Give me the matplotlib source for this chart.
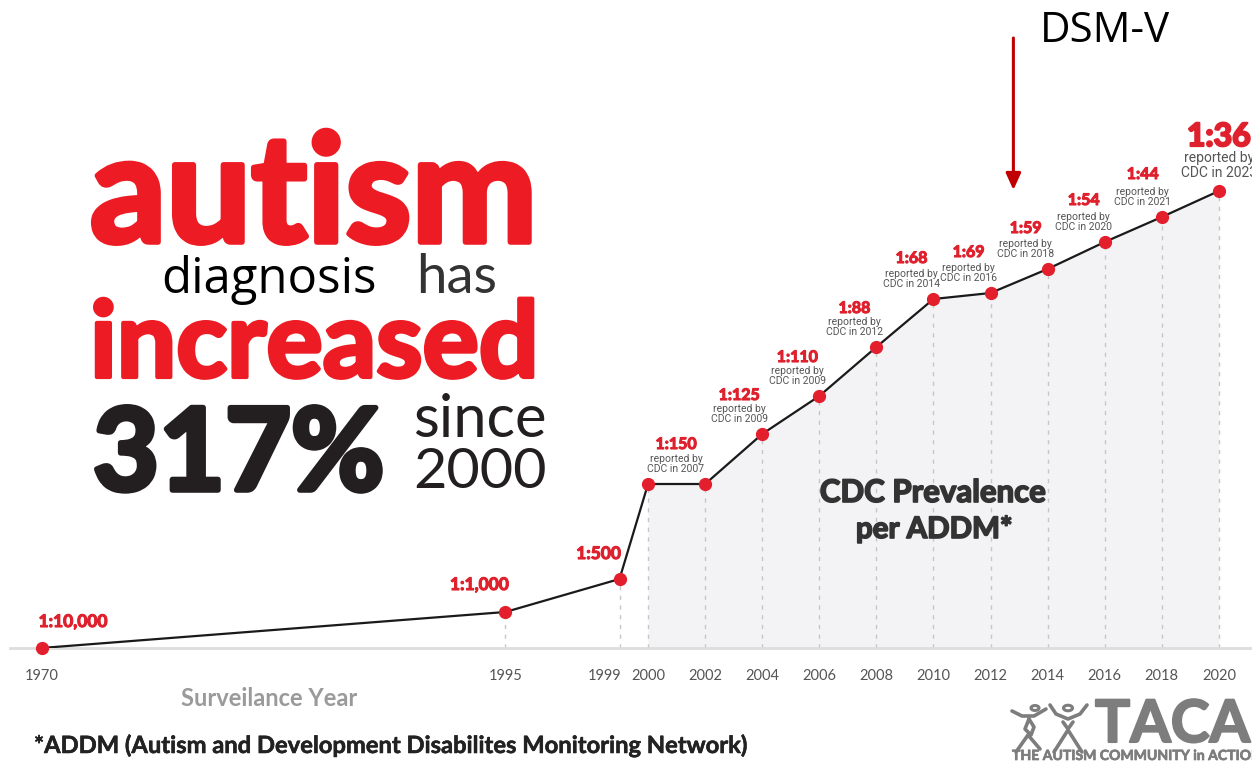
import numpy as np
import matplotlib.pyplot as plt
import matplotlib.patheffects as pe
from matplotlib.lines import Line2D
from matplotlib.patches import Circle
from matplotlib.transforms import ScaledTranslation

# surveillance years and the drawn level of the prevalence curve
years = [1970, 1995, 1999, 2000, 2002, 2004, 2006, 2008, 2010, 2012, 2014, 2016, 2018, 2020]
curve_level = [0, 36, 69, 164, 164, 214, 252, 301, 349, 355, 379, 406, 431, 457]
ratio_labels = ['1:10,000', '1:1,000', '1:500', '1:150', '', '1:125', '1:110',
                '1:88', '1:68', '1:69', '1:59', '1:54', '1:44', '1:36']
report_years = [None, None, None, 2007, None, 2009, 2009, 2012, 2014, 2016, 2018, 2020, 2021, 2023]
tick_years = years
dsm_year = 2012.8

# label placement relative to each point (pixels)
label_dx = [-3, -26, -21, 28, 0, -23, -22, -22, -22, -22, -22, -21, -19, 0]
label_dy = [21, 22, 20, 35, 0, 34, 34, 34, 36, 36, 36, 37, 38, 45]

W, H = 1252, 771
RED = '#ed1c24'
LABEL_RED = '#df202d'
LOGO = '#7d7d7d'

fig = plt.figure(figsize=(W / 100, H / 100), dpi=100)
renderer = fig.canvas.get_renderer()


def px_text(x, y, s, width=None, stroke=0, **kw):
    """Text placed by pixel position (x from left, baseline y from top)."""
    kw.setdefault('va', 'baseline')
    t = fig.text(x / W, 1 - y / H, s, **kw)
    if width:
        w = t.get_window_extent(renderer).width
        t.set_fontsize(t.get_fontsize() * (width - stroke * 1.39) / w)
    if stroke:
        t.set_path_effects([pe.withStroke(linewidth=stroke, foreground=t.get_color())])
    return t


def px_line(xs, ys, **kw):
    fig.add_artist(Line2D(np.array(xs) / W, 1 - np.array(ys) / H,
                          transform=fig.transFigure, **kw))


# compress the years before 1995
def fwd(y):
    y = np.asarray(y, dtype=float)
    return np.where(y < 1995, 1995 - (1995 - y) * 0.65, y)


def inv(s):
    s = np.asarray(s, dtype=float)
    return np.where(s < 1995, 1995 - (1995 - s) / 0.65, s)


ax = fig.add_axes([10 / W, (H - 648) / H, (W - 10) / W, 648 / H])
ax.set_xscale('function', functions=(fwd, inv))
ax.set_xlim(1968.3, 2021.16)
ax.set_ylim(0, 648)
ax.patch.set_alpha(0)

yr = np.array(years)
lv = np.array(curve_level)
recent = yr >= 2000
ax.fill_between(yr[recent], 0, lv[recent], color='#f3f3f5', lw=0, zorder=1)
ax.vlines(yr[1:], 0, lv[1:], colors='#c6c6c6', linestyles=(0, (3, 4)), lw=1, zorder=2)
ax.plot(yr, lv, color='#1a1a1a', lw=1.6, zorder=3)
ax.plot(yr, lv, 'o', color='#e31e2d', ms=8.5, mec='#e31e2d', zorder=4, clip_on=False)

for i, (year, level) in enumerate(zip(years, curve_level)):
    lab = ratio_labels[i]
    if not lab:
        continue
    big = i == len(years) - 1
    ax.annotate(lab, (year, level), xytext=(label_dx[i], label_dy[i]),
                textcoords='offset pixels', ha='left' if i == 0 else 'center',
                va='baseline', color=LABEL_RED, family='Lato', weight='bold',
                fontsize=23 if big else (12.5 if i < 3 else 11.5), annotation_clip=False,
                path_effects=[pe.withStroke(linewidth=1.6 if big else 0.8, foreground=LABEL_RED)])
    if report_years[i]:
        sub = f'reported by\nCDC in {report_years[i]}'
        ax.annotate(sub, (year, level), xytext=(label_dx[i], 12 if not big else 14),
                    textcoords='offset pixels', ha='center', va='baseline',
                    color='#555555', family='Roboto',
                    fontsize=10 if big else 7.5, linespacing=1.05,
                    annotation_clip=False)

# DSM-V marker
ax.annotate('', xy=(dsm_year, 648 - 190), xytext=(dsm_year, 648 - 38),
            arrowprops=dict(arrowstyle='-|>,head_width=0.45,head_length=1.0',
                            color='#c00000', lw=2.2, shrinkA=0, shrinkB=0),
            annotation_clip=False)
px_text(1040, 42, 'DSM-V', width=130, family='Open Sans', fontsize=28, color='black')

for side in ['left', 'right', 'top']:
    ax.spines[side].set_visible(False)
ax.spines['bottom'].set_color('#dddddd')
ax.spines['bottom'].set_linewidth(2)
ax.set_yticks([])
ax.set_xticks(tick_years)
ax.set_xticklabels([str(y) for y in tick_years])
ax.tick_params(axis='x', length=0, pad=15, labelcolor='#555555', labelsize=10.5)
ax.xaxis.set_minor_locator(plt.NullLocator())
for lbl in ax.get_xticklabels():
    lbl.set_family('Lato')
    if lbl.get_text() == '1999':
        lbl.set_transform(lbl.get_transform() + ScaledTranslation(-0.15, 0, fig.dpi_scale_trans))

# headline
px_text(90, 242, 'autism', width=453, stroke=4, family='Lato', weight='bold',
        fontsize=90, color=RED)
px_text(161, 293, 'diagnosis', width=216, family='Open Sans', fontsize=30, color='black')
px_text(416, 293, 'has', width=81, family='Lato', fontsize=30, color='#333333')
px_text(90, 377, 'increased', width=453, stroke=3, family='Lato', weight='bold',
        fontsize=70, color=RED)
px_text(93, 490, '317%', width=297, stroke=4, family='Lato', weight='bold',
        fontsize=90, color='#231f20')
px_text(413, 437, 'since', width=133, family='Lato', fontsize=40, color='#231f20')
px_text(413, 488, '2000', width=133, family='Lato', fontsize=40, color='#231f20')

# chart captions
px_text(933, 502, 'CDC Prevalence', width=227, stroke=1.2, ha='center', family='Lato',
        weight='bold', fontsize=19, color='#333333')
px_text(934, 538, 'per ADDM*', width=158, stroke=1.2, ha='center', family='Lato',
        weight='bold', fontsize=19, color='#333333')
px_text(181, 706, 'Surveilance Year', width=177, family='Lato', weight='bold',
        fontsize=14, color='#9a9a9a')
px_text(34, 753, '*ADDM (Autism and Development Disabilites Monitoring Network)', width=718,
        stroke=0.4, family='Lato', weight='bold', fontsize=14, color='#222222')

# TACA mark
px_text(1095, 742, 'TACA', width=157, stroke=1.5, family='Lato', weight='bold',
        fontsize=38, color=LOGO)
px_text(1012, 760, 'THE AUTISM COMMUNITY in ACTION', width=250, stroke=0.5, family='Lato',
        weight='bold', fontsize=9, color=LOGO)

# two stick figures beside the mark
fig_kw = dict(color=LOGO, lw=2.6, solid_capstyle='round', solid_joinstyle='round')
px_line([1012, 1022, 1034, 1046], [711, 716, 716, 709], **fig_kw)
px_line([1029, 1025, 1031, 1034, 1029], [719, 729, 735, 727, 719], **fig_kw)
px_line([1016, 1028, 1040], [752, 735, 749], **fig_kw)
px_line([1050, 1056, 1068, 1080, 1087], [705, 714, 719, 714, 705], **fig_kw)
px_line([1063, 1068, 1073], [722, 729, 722], **fig_kw)
px_line([1054, 1068, 1082], [752, 730, 752], **fig_kw)
for cx, cy, r in [(1035, 708, 4), (1068, 708, 4.5)]:
    fig.add_artist(Circle((cx / W, 1 - cy / H), r / W, transform=fig.transFigure,
                          fill=False, ec=LOGO, lw=2.2))

fig.savefig('out.png', dpi=100)
